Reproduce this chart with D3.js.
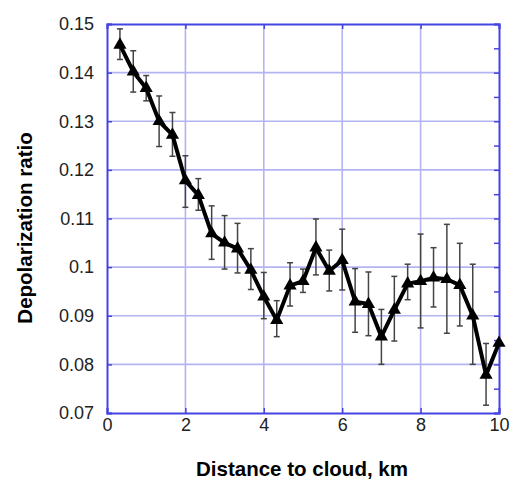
<!DOCTYPE html>
<html>
<head>
<meta charset="utf-8">
<script src="https://cdn.jsdelivr.net/npm/d3@7"></script>
<style>
  body { margin: 0; background: #fff; }
  text { font-family: "Liberation Sans", Arial, sans-serif; }
</style>
</head>
<body>
<svg width="510" height="479"></svg>
<script>
// distance (km), depolarization ratio, error bar low/high
const distance = [0.33, 0.67, 1.0, 1.33, 1.67, 2.0, 2.33, 2.67, 3.0, 3.33,
    3.67, 4.0, 4.33, 4.67, 5.0, 5.33, 5.67, 6.0, 6.33, 6.67,
    7.0, 7.33, 7.67, 8.0, 8.33, 8.67, 9.0, 9.33, 9.67, 10.0];
const ratio = [0.1457, 0.1402, 0.1368, 0.1300, 0.1272, 0.1178, 0.1148, 0.1069, 0.1050, 0.1038,
    0.0994, 0.0939, 0.0891, 0.0962, 0.0971, 0.1040, 0.0992, 0.1014, 0.0929, 0.0924,
    0.0857, 0.0912, 0.0966, 0.0971, 0.0978, 0.0975, 0.0963, 0.0900, 0.0778, 0.0844];
const errLow = [0.1427, 0.1360, 0.1342, 0.1248, 0.1228, 0.1123, 0.1117, 0.1016, 0.0996, 0.0988,
    0.0954, 0.0894, 0.0857, 0.0920, 0.0948, 0.0984, 0.0951, 0.0953, 0.0866, 0.0859,
    0.0800, 0.0848, 0.0933, 0.0875, 0.0918, 0.0864, 0.0879, 0.0800, 0.0716, null];
const errHigh = [0.1490, 0.1445, 0.1394, 0.1352, 0.1318, 0.1229, 0.1182, 0.1126, 0.1106, 0.1090,
    0.1038, 0.0989, 0.0931, 0.1009, 0.0996, 0.1099, 0.1035, 0.1078, 0.0997, 0.0990,
    0.0913, 0.0981, 0.1006, 0.1068, 0.1040, 0.1088, 0.1049, 0.1006, 0.0843, null];
const xTicks = [0, 2, 4, 6, 8, 10];
const yTicks = [0.07, 0.08, 0.09, 0.1, 0.11, 0.12, 0.13, 0.14, 0.15];

const svg = d3.select("svg"),
    margin = {top:24, right:11, bottom:66, left:107},
    width = +svg.attr("width") - margin.left - margin.right,
    height = +svg.attr("height") - margin.top - margin.bottom;

const g = svg.append("g")
    .attr("transform", `translate(${margin.left},${margin.top})`);

const x = d3.scaleLinear().domain([0, 10]).range([0, width]);
const y = d3.scaleLinear().domain([0.07, 0.15]).range([height, 0]);

const frame = "#4444e0";
const gridCol = "#b4b4f2";

// grid
g.append("g")
    .selectAll("line")
    .data(xTicks.slice(1, -1))
    .join("line")
    .attr("x1", d => x(d)).attr("x2", d => x(d))
    .attr("y1", 0).attr("y2", height)
    .attr("stroke", gridCol).attr("stroke-width", 1.6);

g.append("g")
    .selectAll("line")
    .data(yTicks.slice(1, -1))
    .join("line")
    .attr("x1", 0).attr("x2", width)
    .attr("y1", d => y(d)).attr("y2", d => y(d))
    .attr("stroke", gridCol).attr("stroke-width", 1.6);

// axes
const xAxis = g.append("g")
    .attr("transform", `translate(0,${height})`)
    .call(d3.axisBottom(x).tickValues(xTicks).tickSize(-5).tickPadding(5).tickFormat(d3.format("d")));
const yAxis = g.append("g")
    .call(d3.axisLeft(y).tickValues(yTicks).tickSize(-5).tickPadding(13).tickFormat(d => d3.format(".2f")(d).replace(/0$/, "")));
const xTop = g.append("g")
    .call(d3.axisTop(x).tickValues(xTicks).tickSize(-5).tickFormat(""));
const yRight = g.append("g")
    .attr("transform", `translate(${width},0)`)
    .call(d3.axisRight(y).tickValues(d3.range(0.07, 0.1501, 0.005)).tickSize(-5).tickFormat(""));

[xAxis, yAxis, xTop, yRight].forEach(a => {
    a.select(".domain").attr("stroke", frame).attr("stroke-width", 2);
    a.selectAll(".tick line").attr("stroke", frame).attr("stroke-width", 1.5);
    a.selectAll("text").attr("fill", "#222").style("font-size", "18px")
        .style("font-family", "'Liberation Sans', Arial, sans-serif");
});

const pts = distance.map((d, i) => ({x: d, y: ratio[i], lo: errLow[i], hi: errHigh[i]}));

// error bars
const eb = g.append("g").attr("stroke", "#444").attr("stroke-width", 1.5);
const withErr = pts.filter(d => d.lo != null);
eb.selectAll("line.v").data(withErr).join("line").attr("class", "v")
    .attr("x1", d => x(d.x)).attr("x2", d => x(d.x))
    .attr("y1", d => y(d.lo)).attr("y2", d => y(d.hi));
eb.selectAll("line.lo").data(withErr).join("line").attr("class", "lo")
    .attr("x1", d => x(d.x) - 3).attr("x2", d => x(d.x) + 3)
    .attr("y1", d => y(d.lo)).attr("y2", d => y(d.lo));
eb.selectAll("line.hi").data(withErr).join("line").attr("class", "hi")
    .attr("x1", d => x(d.x) - 3).attr("x2", d => x(d.x) + 3)
    .attr("y1", d => y(d.hi)).attr("y2", d => y(d.hi));

// line
g.append("path")
    .datum(pts)
    .attr("fill", "none")
    .attr("stroke", "#000")
    .attr("stroke-width", 4)
    .attr("stroke-linejoin", "round")
    .attr("d", d3.line().x(d => x(d.x)).y(d => y(d.y)));

// markers
g.selectAll("path.marker")
    .data(pts)
    .join("path")
    .attr("class", "marker")
    .attr("transform", d => `translate(${x(d.x)},${y(d.y)})`)
    .attr("d", d3.symbol(d3.symbolTriangle, 75))
    .attr("fill", "#000");

// axis titles
svg.append("text")
    .attr("x", 302)
    .attr("y", 476)
    .attr("text-anchor", "middle")
    .style("font-size", "20.5px")
    .style("font-weight", "bold")
    .text("Distance to cloud, km");

svg.append("text")
    .attr("transform", "translate(32,228) rotate(-90)")
    .attr("text-anchor", "middle")
    .style("font-size", "20.5px")
    .style("font-weight", "bold")
    .text("Depolarization ratio");
</script>
</body>
</html>
